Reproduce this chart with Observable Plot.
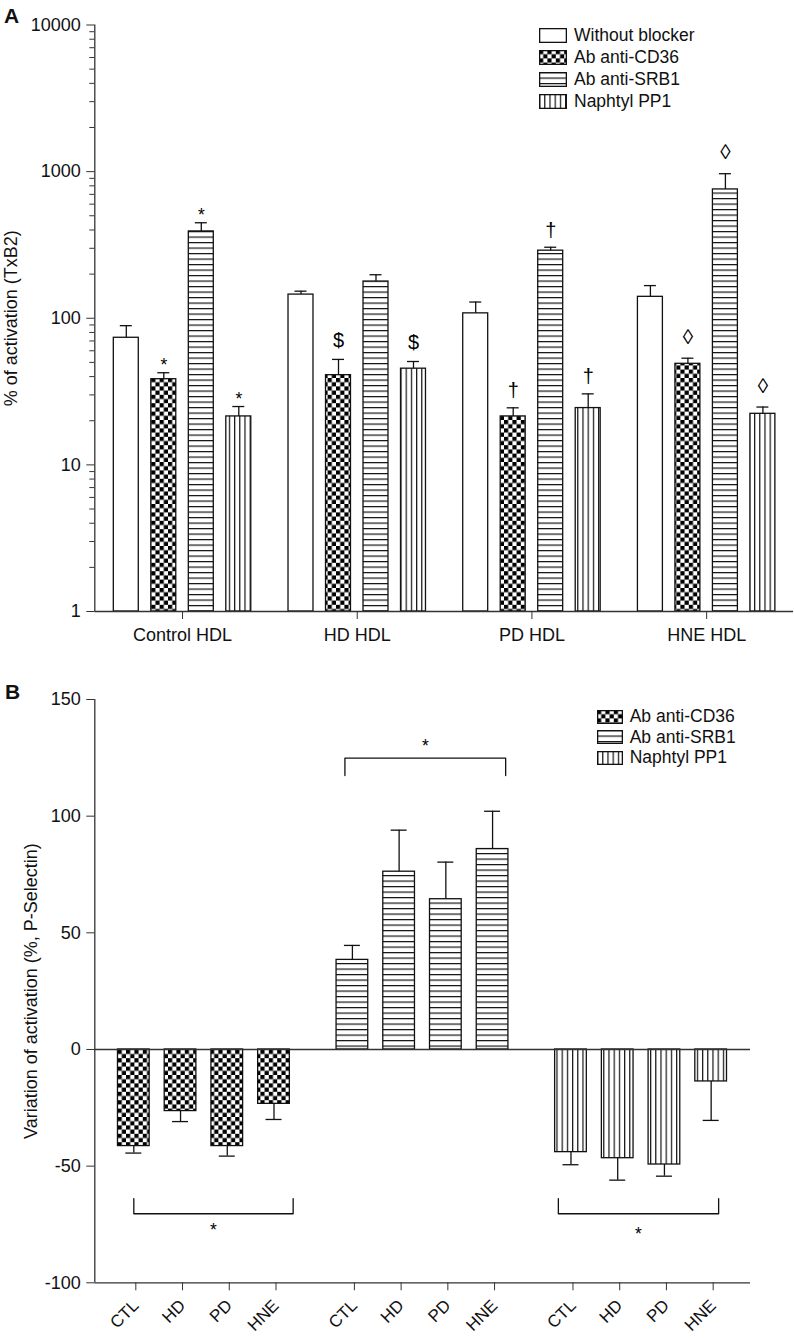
<!DOCTYPE html>
<html><head><meta charset="utf-8">
<script src="https://cdn.jsdelivr.net/npm/d3@7"></script>
<script src="https://cdn.jsdelivr.net/npm/@observablehq/plot@0.6"></script>
<style>
body{margin:0;background:#fff;font-family:"Liberation Sans",Arial,sans-serif;color:#111}
#wrap{position:relative;width:794px;height:1338px;overflow:hidden}
.panel{position:absolute;left:0}
.lbl{position:absolute;font-weight:bold;font-size:21px;line-height:1}
.legend{position:absolute;font-size:17.5px;line-height:1}
.row{display:flex;align-items:center;white-space:nowrap}
.row svg{margin-right:7px;flex:none}
</style></head><body>
<svg width="0" height="0" style="position:absolute">
<defs>
<pattern id="pChecker" patternUnits="userSpaceOnUse" width="8.4" height="8.4">
<rect width="8.4" height="8.4" fill="#fff"/>
<rect width="4.2" height="4.2" fill="#000"/>
<rect x="4.2" y="4.2" width="4.2" height="4.2" fill="#000"/>
</pattern>
<pattern id="pHLines" patternUnits="userSpaceOnUse" width="10" height="5.5">
<rect width="10" height="5.5" fill="#fff"/>
<rect y="0" width="10" height="1.2" fill="#111"/>
</pattern>
<pattern id="pVLines" patternUnits="userSpaceOnUse" width="5.2" height="10">
<rect width="5.2" height="10" fill="#fff"/>
<rect x="0" width="1.2" height="10" fill="#111"/>
</pattern>
</defs>
</svg>
<div id="wrap">
<div id="panelA" class="panel" style="top:0"></div>
<div id="panelB" class="panel" style="top:655px"></div>
<div class="lbl" style="left:4px;top:4.5px">A</div>
<div class="lbl" style="left:5px;top:681px">B</div>
<div id="legA" class="legend" style="left:539px;top:24.9px"></div>
<div id="legB" class="legend" style="left:596.7px;top:706.8px"></div>
</div>
<script>
// ---------- Panel A data ----------
const groupsA = ["Control HDL", "HD HDL", "PD HDL", "HNE HDL"];
const seriesA = ["Without blocker", "Ab anti-CD36", "Ab anti-SRB1", "Naphtyl PP1"];
const meanWithout = [73.6, 145, 108, 140];
const semWithout  = [15.4, 8, 21, 27];
const meanCD36 = [38.4, 40.9, 21.4, 48.9];
const semCD36  = [4.1, 11.5, 3.1, 4.5];
const meanSRB1 = [391, 178, 289, 756];
const semSRB1  = [57, 20, 16, 212];
const meanPP1 = [21.4, 45.3, 24.4, 22.3];
const semPP1  = [3.6, 5.4, 6.1, 2.5];
// significance symbols per group (rows) and series (columns)
const signifA = [
  ["", "*", "*", "*"],
  ["", "$", "", "$"],
  ["", "\u2020", "\u2020", "\u2020"],
  ["", "\u25CA", "\u25CA", "\u25CA"]
];
const yTicksA = [1, 10, 100, 1000, 10000];

// ---------- Panel B data ----------
const hdlB = ["CTL", "HD", "PD", "HNE"];
const seriesB = ["Ab anti-CD36", "Ab anti-SRB1", "Naphtyl PP1"];
const varCD36 = [-41.4, -26.4, -41.4, -23.3];
const varCD36Sem = [3.0, 4.5, 4.3, 6.7];
const varSRB1 = [38.4, 76.2, 64.4, 85.9];
const varSRB1Sem = [6.2, 17.8, 15.9, 16.2];
const varPP1 = [-44.0, -46.6, -49.3, -13.7];
const varPP1Sem = [5.4, 9.4, 5.0, 16.7];
const bracketLevel = [-70.4, 124.9, -70.4];
const bracketArm = [-63.9, 117.4, -63.9];
const starLevel = [-77.6, 129.9, -79.3];
const yTicksB = [-100, -50, 0, 50, 100, 150];

// ---------- styling / layout ----------
const fillsA = ["white", "url(#pChecker)", "url(#pHLines)", "url(#pVLines)"];
const fillsB = ["url(#pChecker)", "url(#pHLines)", "url(#pVLines)"];
const ink = "#111";
const font = {fontFamily: "'Liberation Sans', Arial, sans-serif", fontSize: "18px", color: ink, background: "white", overflow: "visible"};

// Panel A layout (x in bar-slot units)
const stepA = 4.659, halfBarA = 0.333, capA = 0.16;
const meansA = [meanWithout, meanCD36, meanSRB1, meanPP1];
const semsA = [semWithout, semCD36, semSRB1, semPP1];
const dataA = seriesA.flatMap((s, j) => groupsA.map((g, i) => ({
  series: s, j, group: g, pos: i * stepA + j,
  value: meansA[j][i], top: meansA[j][i] + semsA[j][i], sig: signifA[i][j]
})));
const centersA = groupsA.map((g, i) => i * stepA + 1.5);
const xDomA = [-0.84, 3 * stepA + 3 + 0.816];
const minorA = d3.range(0, 4).flatMap(e => d3.range(2, 10).map(m => m * Math.pow(10, e)));
const sigStyle = {
  "*": {dy: -7, fontSize: 17.5},
  "$": {dy: -19, fontSize: 20},
  "\u2020": {dy: -17, fontSize: 20},
  "\u25CA": {dy: -21, fontSize: 21}
};

const plotA = Plot.plot({
  width: 794, height: 655,
  marginLeft: 94.3, marginRight: 1, marginTop: 24.5, marginBottom: 44,
  style: font,
  color: {type: "identity"},
  x: {type: "linear", domain: xDomA},
  y: {type: "log", domain: [1, 10000]},
  marks: [
    Plot.rectY(dataA, {x1: d => d.pos - halfBarA, x2: d => d.pos + halfBarA, y1: 1, y2: "value",
      fill: d => fillsA[d.j], stroke: ink, strokeWidth: 1.3}),
    Plot.ruleX(dataA, {x: "pos", y1: "value", y2: "top", stroke: ink, strokeWidth: 1.3}),
    Plot.ruleY(dataA, {x1: d => d.pos - capA, x2: d => d.pos + capA, y: "top", stroke: ink, strokeWidth: 1.3}),
    ...Object.keys(sigStyle).map(sym => Plot.text(dataA.filter(d => d.sig === sym),
      {x: "pos", y: "top", text: "sig", dy: sigStyle[sym].dy, fontSize: sigStyle[sym].fontSize, fill: "#000"})),
    Plot.ruleX([xDomA[0]], {stroke: "#333", strokeWidth: 1.3}),
    Plot.ruleY([1], {stroke: "#333", strokeWidth: 1.3}),
    Plot.axisY({ticks: yTicksA, tickSize: 8, tickPadding: 6, tickFormat: d => String(d), fontSize: 18,
      label: "% of activation (TxB2)", labelAnchor: "center", labelOffset: 91, labelArrow: "none", stroke: "#333"}),
    Plot.axisY({ticks: minorA, tickSize: 5, tickFormat: () => "", label: null, stroke: "#333"}),
    Plot.axisX({ticks: centersA, tickSize: 8, tickPadding: 9, label: null, stroke: "#333",
      tickFormat: d => groupsA[centersA.indexOf(d)], fontSize: 18})
  ]
});
document.getElementById("panelA").appendChild(plotA);

// Panel B layout (x in bar-slot units)
const stepB = 4.678, halfBarB = 0.339, capB = 0.171;
const meansB = [varCD36, varSRB1, varPP1];
const semsB = [varCD36Sem, varSRB1Sem, varPP1Sem];
const dataB = seriesB.flatMap((s, g) => hdlB.map((h, i) => {
  const v = meansB[g][i];
  return {series: s, g, hdl: h, pos: g * stepB + i, value: v, end: v + Math.sign(v) * semsB[g][i]};
}));
const ticksB = dataB.map(d => d.pos);
const labelsB = dataB.map(d => d.hdl);
const bracketFrom = [0, -0.16, -0.27];
const bracketTo = [3.41, 3.28, 3.16];
const bracketPts = seriesB.flatMap((s, g) => {
  const a = g * stepB + bracketFrom[g], b = g * stepB + bracketTo[g];
  return [[a, bracketArm[g]], [a, bracketLevel[g]], [b, bracketLevel[g]], [b, bracketArm[g]]]
    .map(([x, y]) => ({g, x, y}));
});
const stars = seriesB.map((s, g) => ({x: g * stepB + (bracketFrom[g] + bracketTo[g]) / 2, y: starLevel[g]}));
const xDomB = [-0.835, 2 * stepB + 3 + 0.842];

const plotB = Plot.plot({
  width: 794, height: 683,
  marginLeft: 94.3, marginRight: 44, marginTop: 44, marginBottom: 55.7,
  style: font,
  color: {type: "identity"},
  x: {type: "linear", domain: xDomB},
  y: {type: "linear", domain: [-100, 150]},
  marks: [
    Plot.rectY(dataB, {x1: d => d.pos - halfBarB, x2: d => d.pos + halfBarB, y1: 0, y2: "value",
      fill: d => fillsB[d.g], stroke: ink, strokeWidth: 1.3}),
    Plot.ruleX(dataB, {x: "pos", y1: "value", y2: "end", stroke: ink, strokeWidth: 1.3}),
    Plot.ruleY(dataB, {x1: d => d.pos - capB, x2: d => d.pos + capB, y: "end", stroke: ink, strokeWidth: 1.3}),
    Plot.line(bracketPts, {x: "x", y: "y", z: "g", stroke: ink, strokeWidth: 1.3}),
    Plot.text(stars, {x: "x", y: "y", text: () => "*", fontSize: 17.5, fill: "#000"}),
    Plot.ruleY([0], {stroke: "#333", strokeWidth: 1.3}),
    Plot.ruleY([-100], {stroke: "#333", strokeWidth: 1.3}),
    Plot.ruleX([xDomB[0]], {stroke: "#333", strokeWidth: 1.3}),
    Plot.axisY({ticks: yTicksB, tickSize: 8, tickPadding: 6, tickFormat: d => String(d), fontSize: 18,
      label: "Variation of activation (%, P-Selectin)", labelAnchor: "center", labelOffset: 71, labelArrow: "none", stroke: "#333"}),
    Plot.axisX({ticks: ticksB, tickSize: 8, tickPadding: 12, dx: 2, tickRotate: -45, label: null, stroke: "#333",
      tickFormat: d => labelsB[ticksB.indexOf(d)], fontSize: 17})
  ]
});
document.getElementById("panelB").appendChild(plotB);

// ---------- legends ----------
function swatch(fill, w, h) {
  const ns = "http://www.w3.org/2000/svg";
  const s = document.createElementNS(ns, "svg");
  s.setAttribute("width", w); s.setAttribute("height", h);
  const r = document.createElementNS(ns, "rect");
  r.setAttribute("x", 0.65); r.setAttribute("y", 0.65);
  r.setAttribute("width", w - 1.3); r.setAttribute("height", h - 1.3);
  r.setAttribute("fill", fill); r.setAttribute("stroke", ink); r.setAttribute("stroke-width", 1.3);
  s.appendChild(r);
  return s;
}
function legend(el, names, fills, w, h, rowH) {
  names.forEach((n, i) => {
    const row = document.createElement("div");
    row.className = "row"; row.style.height = rowH + "px";
    row.appendChild(swatch(fills[i], w, h));
    const t = document.createElement("span"); t.textContent = n;
    row.appendChild(t);
    el.appendChild(row);
  });
}
legend(document.getElementById("legA"), seriesA, fillsA, 28, 15, 21.9);
legend(document.getElementById("legB"), seriesB, fillsB, 26, 14, 20.4);
</script>
</body></html>
